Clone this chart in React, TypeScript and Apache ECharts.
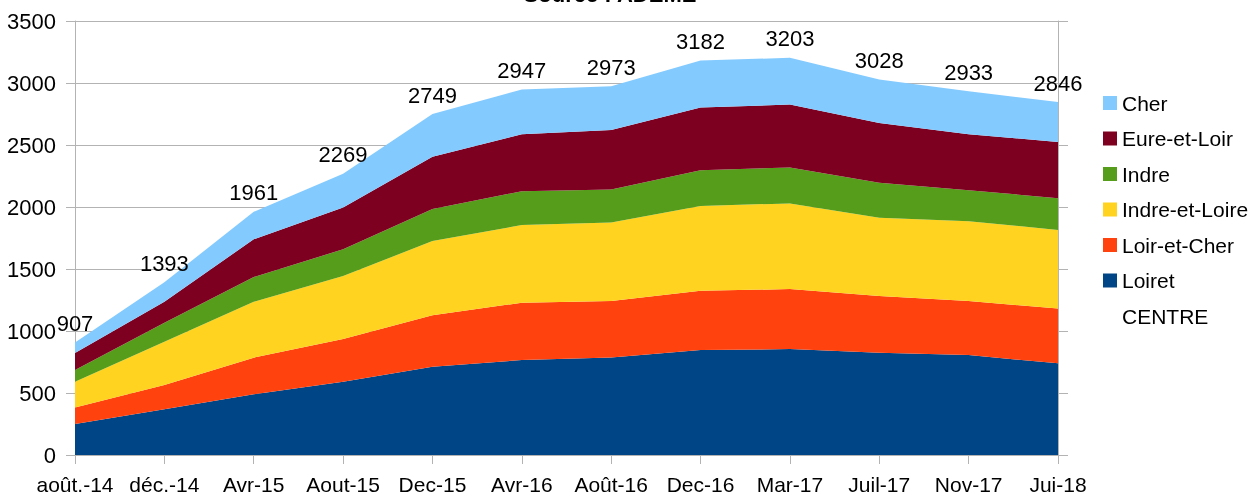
import React, { useEffect, useRef } from "react";
import * as echarts from "echarts";

const categories = ["août.-14", "déc.-14", "Avr-15", "Aout-15", "Dec-15", "Avr-16", "Août-16", "Dec-16", "Mar-17", "Juil-17", "Nov-17", "Jui-18"];
const loiret = [250, 368, 490, 591, 712, 766, 787, 846, 854, 825, 806, 739];
const loirEtCher = [134, 196, 295, 345, 416, 462, 454, 478, 484, 457, 435, 443];
const indreEtLoire = [207, 349, 450, 508, 597, 626, 635, 685, 691, 631, 645, 632];
const indre = [94, 153, 200, 215, 258, 274, 265, 288, 290, 282, 250, 257];
const eureEtLoir = [138, 170, 305, 336, 422, 459, 479, 505, 507, 483, 451, 454];
const cher = [84, 157, 221, 274, 344, 360, 353, 380, 377, 350, 346, 321];
const centre = [907, 1393, 1961, 2269, 2749, 2947, 2973, 3182, 3203, 3028, 2933, 2846];
const yTicks = { min: 0, max: 3500, interval: 500 };

const FONT = "'Liberation Sans', Arial, sans-serif";
const GRAY = "#b3b3b3";

export default function App() {
  const ref = useRef<HTMLDivElement>(null);
  useEffect(() => {
    if (!ref.current) return;
    const chart = echarts.init(ref.current, null, { renderer: "svg" });
    const area = (name: string, data: number[], color: string) => ({
      name,
      type: "line",
      stack: "total",
      data,
      symbol: "none",
      lineStyle: { width: 0 },
      itemStyle: { color },
      areaStyle: { color, opacity: 1 },
    });
    chart.setOption({
      animation: false,
      textStyle: { fontFamily: FONT },
      graphic: [
        {
          type: "text",
          x: 610,
          y: 5,
          style: {
            text: "Source : ADEME",
            textAlign: "center",
            textVerticalAlign: "bottom",
            font: `bold 22px ${FONT}`,
            fill: "#000",
          },
        },
      ],
      grid: { left: 75, right: 198, top: 21, bottom: 42, containLabel: false },
      legend: {
        orient: "vertical",
        left: 1098,
        top: 87,
        itemWidth: 14,
        itemHeight: 14,
        itemGap: 13.5,
        textStyle: { fontSize: 21, color: "#000", fontFamily: FONT, lineHeight: 22 },
        data: [
          { name: "Cher", icon: "rect" },
          { name: "Eure-et-Loir", icon: "rect" },
          { name: "Indre", icon: "rect" },
          { name: "Indre-et-Loire", icon: "rect" },
          { name: "Loir-et-Cher", icon: "rect" },
          { name: "Loiret", icon: "rect" },
          { name: "CENTRE", icon: "none" },
        ],
      },
      xAxis: {
        type: "category",
        data: categories,
        boundaryGap: false,
        axisLine: { lineStyle: { color: GRAY } },
        axisTick: { show: true, length: 9, lineStyle: { color: GRAY }, alignWithLabel: true },
        axisLabel: { color: "#000", fontSize: 21, margin: 19, fontFamily: FONT, interval: 0 },
      },
      yAxis: [
        {
          type: "value",
          ...yTicks,
          axisLine: { show: true, lineStyle: { color: GRAY } },
          axisTick: { show: true, length: 9, lineStyle: { color: GRAY } },
          splitLine: { show: true, lineStyle: { color: GRAY } },
          axisLabel: {
            color: "#000",
            fontSize: 22,
            margin: 19,
            fontFamily: FONT,
            formatter: (v: number) => String(v),
          },
        },
        {
          type: "value",
          position: "right",
          ...yTicks,
          axisLine: { show: true, lineStyle: { color: GRAY } },
          axisTick: { show: true, length: 10, lineStyle: { color: GRAY } },
          splitLine: { show: false },
          axisLabel: { show: false },
        },
      ],
      series: [
        area("Loiret", loiret, "#004586"),
        area("Loir-et-Cher", loirEtCher, "#ff420e"),
        area("Indre-et-Loire", indreEtLoire, "#ffd320"),
        area("Indre", indre, "#579d1c"),
        area("Eure-et-Loir", eureEtLoir, "#7e0021"),
        area("Cher", cher, "#83caff"),
        {
          name: "CENTRE",
          type: "line",
          data: centre,
          symbol: "circle",
          symbolSize: 0.1,
          showSymbol: true,
          itemStyle: { color: "rgba(0,0,0,0)" },
          lineStyle: { width: 0, opacity: 0 },
          z: 10,
          label: {
            show: true,
            position: "top",
            distance: 8,
            color: "#000",
            fontSize: 22,
            fontFamily: FONT,
          },
        },
      ],
    });
    return () => chart.dispose();
  }, []);
  return <div ref={ref} style={{ position: "fixed", left: 0, top: 0, width: 1256, height: 497 }} />;
}
